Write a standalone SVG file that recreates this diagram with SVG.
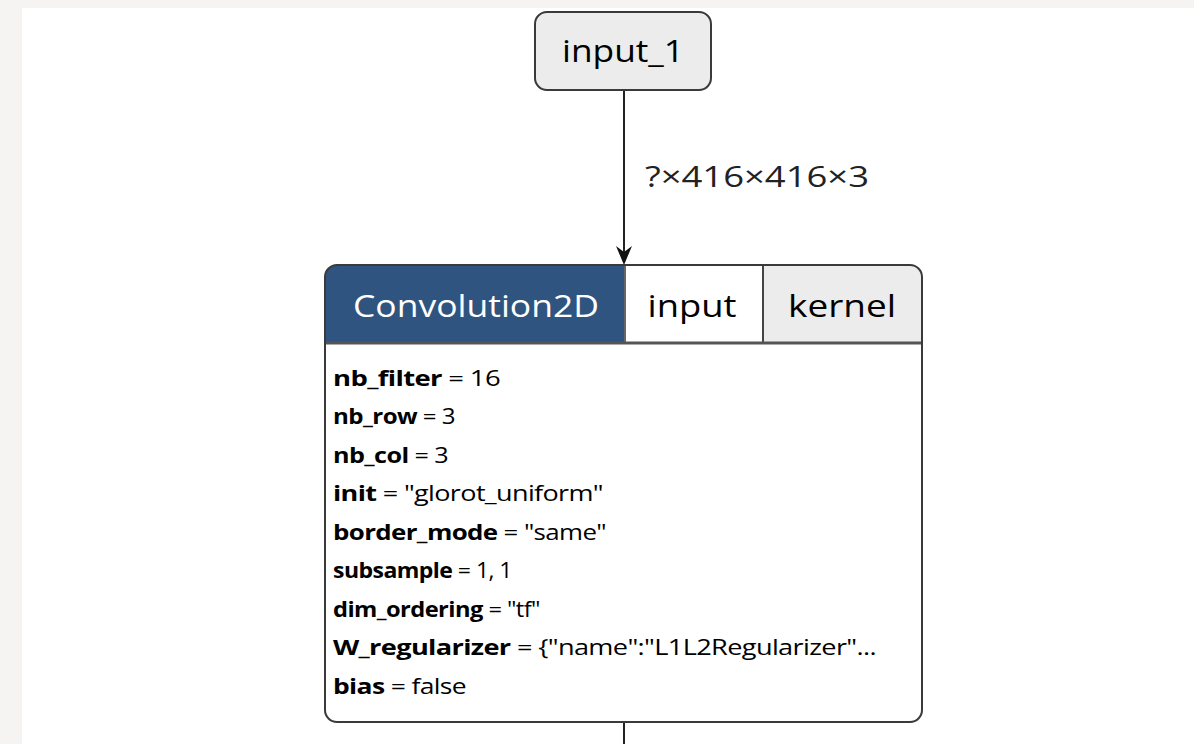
<svg xmlns="http://www.w3.org/2000/svg" width="1194" height="744" viewBox="0 0 1194 744">
<defs>
<style>
.nodebox{stroke:#3a3a3a;stroke-width:2}
.hdr{font-family:"Open Sans","DejaVu Sans",sans-serif;font-size:31px}
.attr{font-family:"Open Sans","DejaVu Sans",sans-serif;font-size:21px;fill:#000;letter-spacing:-0.5px}
.attr .k{font-weight:bold}
.edge{stroke:#222;stroke-width:2;fill:none}
.arrowhead{fill:#111}
.elabel{font-family:"Open Sans","DejaVu Sans",sans-serif;font-size:29px;fill:#222}
</style>
<clipPath id="convclip"><rect x="325" y="265" width="597" height="457" rx="12"/></clipPath>
</defs>
<rect x="0" y="0" width="1194" height="744" fill="#f5f4f2"/>
<rect x="22" y="8" width="1172" height="736" fill="#ffffff"/>
<g id="connectors">
<line class="edge" x1="624" y1="90" x2="624" y2="256"/>
<polygon class="arrowhead" points="624,265 616,246 624,252 632,246"/>
<text class="elabel" x="645" y="187" textLength="224" lengthAdjust="spacingAndGlyphs">?×416×416×3</text>
<line class="edge" x1="624" y1="722" x2="624" y2="744"/>
</g>
<g id="input_1">
<rect class="nodebox" x="535" y="12" width="176" height="78" rx="12" fill="#ececec"/>
<text class="hdr" x="623" y="62" text-anchor="middle" fill="#000" textLength="122" lengthAdjust="spacingAndGlyphs">input_1</text>
</g>
<g id="conv2d">
<g clip-path="url(#convclip)">
<rect x="325" y="265" width="597" height="457" fill="#ffffff"/>
<rect x="325" y="265" width="300" height="78" fill="#2f5480"/>
<rect x="625" y="265" width="138" height="78" fill="#ffffff"/>
<rect x="763" y="265" width="159" height="78" fill="#ececec"/>
</g>
<line x1="625" y1="265" x2="625" y2="343" stroke="#666" stroke-width="2"/>
<line x1="763" y1="265" x2="763" y2="343" stroke="#444" stroke-width="2"/>
<line x1="325" y1="343" x2="922" y2="343" stroke="#555" stroke-width="3"/>
<rect class="nodebox" x="325" y="265" width="597" height="457" rx="12" fill="none"/>
<text class="hdr" x="476" y="317" text-anchor="middle" fill="#ffffff" textLength="246" lengthAdjust="spacingAndGlyphs">Convolution2D</text>
<text class="hdr" x="692" y="317" text-anchor="middle" fill="#000" textLength="89" lengthAdjust="spacingAndGlyphs">input</text>
<text class="hdr" x="842" y="317" text-anchor="middle" fill="#000" textLength="108" lengthAdjust="spacingAndGlyphs">kernel</text>
<text class="attr" x="333" y="386" textLength="167" lengthAdjust="spacingAndGlyphs"><tspan class="k">nb_filter</tspan> = 16</text>
<text class="attr" x="333" y="424" textLength="122" lengthAdjust="spacingAndGlyphs"><tspan class="k">nb_row</tspan> = 3</text>
<text class="attr" x="333" y="463" textLength="115" lengthAdjust="spacingAndGlyphs"><tspan class="k">nb_col</tspan> = 3</text>
<text class="attr" x="333" y="501" textLength="270" lengthAdjust="spacingAndGlyphs"><tspan class="k">init</tspan> = "glorot_uniform"</text>
<text class="attr" x="333" y="540" textLength="273" lengthAdjust="spacingAndGlyphs"><tspan class="k">border_mode</tspan> = "same"</text>
<text class="attr" x="333" y="578" textLength="179" lengthAdjust="spacingAndGlyphs"><tspan class="k">subsample</tspan> = 1, 1</text>
<text class="attr" x="333" y="617" textLength="207" lengthAdjust="spacingAndGlyphs"><tspan class="k">dim_ordering</tspan> = "tf"</text>
<text class="attr" x="333" y="655" textLength="543" lengthAdjust="spacingAndGlyphs"><tspan class="k">W_regularizer</tspan> = {"name":"L1L2Regularizer"...</text>
<text class="attr" x="333" y="694" textLength="133" lengthAdjust="spacingAndGlyphs"><tspan class="k">bias</tspan> = false</text>
</g>
</svg>
